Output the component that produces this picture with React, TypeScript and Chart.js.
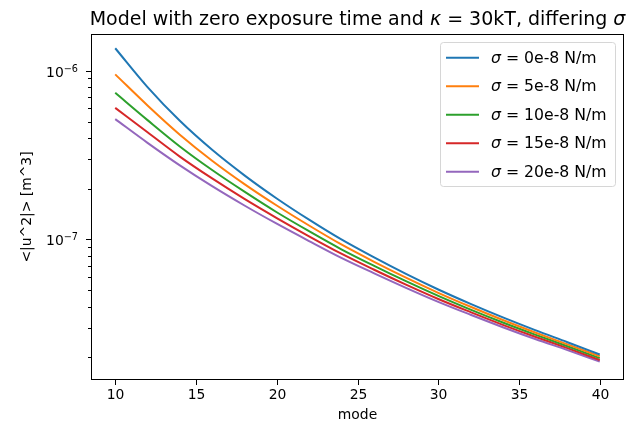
import React, { useEffect, useRef } from "react";
import { Chart, registerables } from "chart.js";

Chart.register(...registerables);

// ---- data ----
const modes = [10, 12, 14, 16, 18, 20, 22, 24, 26, 28, 30, 32, 34, 36, 38, 40];
const sigmaLabels = ["0e-8", "5e-8", "10e-8", "15e-8", "20e-8"];
const sigma0 = [1.36e-6, 8.0e-7, 5.05e-7, 3.4e-7, 2.4e-7, 1.75e-7, 1.31e-7, 1.0e-7, 7.85e-8, 6.25e-8, 5.05e-8, 4.15e-8, 3.45e-8, 2.9e-8, 2.46e-8, 2.08e-8];
const sigma5 = [9.52e-7, 6.23e-7, 4.18e-7, 2.93e-7, 2.13e-7, 1.59e-7, 1.21e-7, 9.34e-8, 7.4e-8, 5.94e-8, 4.83e-8, 3.99e-8, 3.33e-8, 2.81e-8, 2.39e-8, 2.03e-8];
const sigma10 = [7.4e-7, 5.1e-7, 3.56e-7, 2.58e-7, 1.92e-7, 1.45e-7, 1.12e-7, 8.75e-8, 7.0e-8, 5.66e-8, 4.63e-8, 3.84e-8, 3.22e-8, 2.73e-8, 2.33e-8, 1.98e-8];
const sigma15 = [6.03e-7, 4.32e-7, 3.1e-7, 2.3e-7, 1.74e-7, 1.34e-7, 1.045e-7, 8.24e-8, 6.64e-8, 5.4e-8, 4.44e-8, 3.71e-8, 3.12e-8, 2.65e-8, 2.27e-8, 1.93e-8];
const sigma20 = [5.17e-7, 3.74e-7, 2.75e-7, 2.07e-7, 1.59e-7, 1.24e-7, 9.79e-8, 7.78e-8, 6.32e-8, 5.17e-8, 4.27e-8, 3.58e-8, 3.02e-8, 2.57e-8, 2.21e-8, 1.89e-8];
const seriesValues = [sigma0, sigma5, sigma10, sigma15, sigma20];

const xTicks = [10, 15, 20, 25, 30, 35, 40];
const yMajorTicks = [1e-7, 1e-6];
const yMajorExponents = ["\u22127", "\u22126"];
const yMinorTicks = [2e-8, 3e-8, 4e-8, 5e-8, 6e-8, 7e-8, 8e-8, 9e-8, 2e-7, 3e-7, 4e-7, 5e-7, 6e-7, 7e-7, 8e-7, 9e-7];

const titleParts: [string, boolean][] = [
  ["Model with zero exposure time and ", false],
  ["\u03ba", true],
  [" = 30kT, differing ", false],
  ["\u03c3", true],
];
const xLabel = "mode";
const yLabel = "<|u^2|> [m^3]";

const colors = ["#1f77b4", "#ff7f0e", "#2ca02c", "#d62728", "#9467bd"];

const FONT = '"DejaVu Sans", sans-serif';

function drawParts(ctx: CanvasRenderingContext2D, parts: [string, boolean][], size: number, cx: number, y: number, align: "center" | "left") {
  const widths = parts.map(([t, it]) => {
    ctx.font = `${it ? "italic " : ""}${size}px ${FONT}`;
    return ctx.measureText(t).width;
  });
  const total = widths.reduce((a, b) => a + b, 0);
  let x = align === "center" ? cx - total / 2 : cx;
  ctx.textAlign = "left";
  parts.forEach(([t, it], i) => {
    ctx.font = `${it ? "italic " : ""}${size}px ${FONT}`;
    ctx.fillText(t, x, y);
    x += widths[i];
  });
}

const decorPlugin = {
  id: "mplDecor",
  afterDraw(chart: any) {
    const ctx: CanvasRenderingContext2D = chart.ctx;
    const { left, right, top, bottom } = chart.chartArea;
    const xs = chart.scales.x;
    const ys = chart.scales.y;
    ctx.save();
    ctx.fillStyle = "#000";
    ctx.strokeStyle = "#000";
    ctx.lineWidth = 1;

    // spines
    ctx.strokeRect(left + 0.5, top + 0.5, right - left - 1, bottom - top - 1);

    // x ticks + labels
    ctx.font = `13.9px ${FONT}`;
    ctx.textAlign = "center";
    ctx.textBaseline = "alphabetic";
    xTicks.forEach((v) => {
      const px = Math.round(xs.getPixelForValue(v)) + 0.5;
      ctx.beginPath();
      ctx.moveTo(px, bottom);
      ctx.lineTo(px, bottom + 5);
      ctx.stroke();
      ctx.fillText(String(v), px, bottom + 19);
    });

    // y ticks
    yMinorTicks.forEach((v) => {
      const py = Math.round(ys.getPixelForValue(v)) + 0.5;
      if (py < top || py > bottom) return;
      ctx.beginPath();
      ctx.moveTo(left, py);
      ctx.lineTo(left - 3, py);
      ctx.stroke();
    });
    yMajorTicks.forEach((v, i) => {
      const py = Math.round(ys.getPixelForValue(v)) + 0.5;
      ctx.beginPath();
      ctx.moveTo(left, py);
      ctx.lineTo(left - 5, py);
      ctx.stroke();
      ctx.font = `9.7px ${FONT}`;
      const supW = ctx.measureText(yMajorExponents[i]).width;
      ctx.font = `13.9px ${FONT}`;
      const baseW = ctx.measureText("10").width;
      const rightEdge = left - 13;
      ctx.textAlign = "left";
      ctx.fillText("10", rightEdge - supW - baseW, py + 5.8);
      ctx.font = `9.7px ${FONT}`;
      ctx.fillText(yMajorExponents[i], rightEdge - supW, py + 0.3);
    });

    // axis labels
    ctx.font = `13.9px ${FONT}`;
    ctx.textAlign = "center";
    ctx.textBaseline = "alphabetic";
    ctx.fillText(xLabel, (left + right) / 2, 419);
    ctx.save();
    ctx.translate(31, (top + bottom) / 2);
    ctx.rotate(-Math.PI / 2);
    ctx.textBaseline = "alphabetic";
    ctx.fillText(yLabel, 0, 0);
    ctx.restore();

    // title
    ctx.textBaseline = "alphabetic";
    drawParts(ctx, titleParts, 19, (left + right) / 2, 25, "center");

    // legend
    const lx = 440.5, ly = 42.5, lw = 175, lh = 144, r = 3;
    ctx.beginPath();
    ctx.moveTo(lx + r, ly);
    ctx.lineTo(lx + lw - r, ly);
    ctx.arcTo(lx + lw, ly, lx + lw, ly + r, r);
    ctx.lineTo(lx + lw, ly + lh - r);
    ctx.arcTo(lx + lw, ly + lh, lx + lw - r, ly + lh, r);
    ctx.lineTo(lx + r, ly + lh);
    ctx.arcTo(lx, ly + lh, lx, ly + lh - r, r);
    ctx.lineTo(lx, ly + r);
    ctx.arcTo(lx, ly, lx + r, ly, r);
    ctx.closePath();
    ctx.fillStyle = "rgba(255,255,255,0.8)";
    ctx.fill();
    ctx.strokeStyle = "#d6d6d6";
    ctx.stroke();

    chart.data.datasets.forEach((ds: any, i: number) => {
      const cy = 57.7 + i * 28.5;
      ctx.strokeStyle = ds.borderColor;
      ctx.lineWidth = 2;
      ctx.beginPath();
      ctx.moveTo(446, cy);
      ctx.lineTo(479, cy);
      ctx.stroke();
      ctx.fillStyle = "#000";
      ctx.textBaseline = "middle";
      drawParts(ctx, [["\u03c3", true], [` = ${sigmaLabels[i]} N/m`, false]], 15.7, 491, cy + 1, "left");
    });

    ctx.restore();
  },
};

export default function App() {
  const ref = useRef<HTMLCanvasElement | null>(null);

  useEffect(() => {
    document.body.style.margin = "0";
    const canvas = ref.current;
    if (!canvas) return;
    const chart = new Chart(canvas, {
      type: "line",
      data: {
        datasets: seriesValues.map((vals, i) => ({
          label: `\u03c3 = ${sigmaLabels[i]} N/m`,
          data: modes.map((m, j) => ({ x: m, y: vals[j] })),
          borderColor: colors[i],
          backgroundColor: colors[i],
          borderWidth: 2,
          pointRadius: 0,
          cubicInterpolationMode: "monotone",
          fill: false,
        })),
      },
      options: {
        responsive: false,
        animation: false,
        devicePixelRatio: 1,
        layout: { padding: { left: 91, right: 19, top: 34, bottom: 53 } },
        plugins: {
          legend: { display: false },
          title: { display: false },
          tooltip: { enabled: false },
        },
        scales: {
          x: { type: "linear", min: 8.5, max: 41.5, display: false },
          y: { type: "logarithmic", min: 1.469e-8, max: 1.652e-6, display: false },
        },
      },
      plugins: [decorPlugin],
    });
    return () => chart.destroy();
  }, []);

  return (
    <div style={{ position: "absolute", left: 0, top: 0, width: 643, height: 433, background: "#fff" }}>
      <canvas ref={ref} width={643} height={433} style={{ width: 643, height: 433, display: "block" }} />
    </div>
  );
}
